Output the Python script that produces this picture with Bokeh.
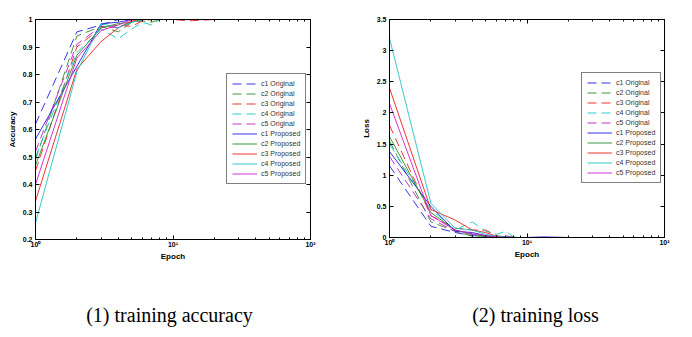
from bokeh.plotting import figure
from bokeh.layouts import row, column
from bokeh.models import (Range1d, FixedTicker, PrintfTickFormatter, LinearAxis, LogAxis,
                          Legend, LegendItem, Label)
from bokeh.embed import file_html
from bokeh.resources import INLINE

# ---------------- data ----------------
epochs = [1, 2, 3, 4, 5, 6, 7, 8, 9, 10, 13, 20, 50, 100]

acc_c1_orig = [0.62, 0.955, 0.98, 1.0, 1.0, 1.0, 1.0, 1.0, 1.0, 1.0, 1.0, 1.0, 1.0, 1.0]
acc_c2_orig = [0.49, 0.94, 0.975, 0.955, 0.99, 0.995, 0.99, 1.0, 1.0, 1.0, 1.0, 1.0, 1.0, 1.0]
acc_c3_orig = [0.45, 0.90, 0.97, 0.98, 0.975, 0.995, 1.0, 1.0, 1.0, 1.0, 0.995, 1.0, 1.0, 1.0]
acc_c4_orig = [0.50, 0.88, 0.965, 0.93, 0.965, 0.99, 0.98, 1.0, 1.0, 1.0, 1.0, 1.0, 1.0, 1.0]
acc_c5_orig = [0.52, 0.91, 0.975, 0.97, 0.99, 1.0, 1.0, 1.0, 1.0, 1.0, 1.0, 1.0, 1.0, 1.0]
acc_c1_prop = [0.565, 0.83, 0.985, 0.99, 1.0, 1.0, 1.0, 1.0, 1.0, 1.0, 1.0, 1.0, 1.0, 1.0]
acc_c2_prop = [0.47, 0.87, 0.97, 0.985, 0.99, 1.0, 1.0, 1.0, 1.0, 1.0, 1.0, 1.0, 1.0, 1.0]
acc_c3_prop = [0.34, 0.82, 0.92, 0.97, 0.995, 1.0, 1.0, 1.0, 1.0, 1.0, 1.0, 1.0, 1.0, 1.0]
acc_c4_prop = [0.26, 0.81, 0.985, 0.97, 0.99, 1.0, 1.0, 1.0, 1.0, 1.0, 1.0, 1.0, 1.0, 1.0]
acc_c5_prop = [0.40, 0.86, 0.96, 0.98, 1.0, 1.0, 1.0, 1.0, 1.0, 1.0, 1.0, 1.0, 1.0, 1.0]

loss_c1_orig = [1.15, 0.18, 0.08, 0.03, 0.02, 0.01, 0.005, 0.0, 0.0, 0.0, 0.0, 0.0, 0.0, 0.0]
loss_c2_orig = [1.55, 0.25, 0.10, 0.02, 0.02, 0.01, 0.005, 0.0, 0.0, 0.0, 0.0, 0.0, 0.0, 0.0]
loss_c3_orig = [1.80, 0.35, 0.15, 0.12, 0.12, 0.03, 0.005, 0.0, 0.0, 0.0, 0.0, 0.0, 0.0, 0.0]
loss_c4_orig = [1.50, 0.45, 0.12, 0.25, 0.10, 0.05, 0.10, 0.01, 0.0, 0.0, 0.0, 0.0, 0.0, 0.0]
loss_c5_orig = [1.30, 0.30, 0.10, 0.05, 0.03, 0.01, 0.03, 0.0, 0.0, 0.0, 0.0, 0.0, 0.0, 0.0]
loss_c1_prop = [1.38, 0.50, 0.10, 0.08, 0.03, 0.01, 0.005, 0.0, 0.0, 0.0, 0.01, 0.0, 0.0, 0.0]
loss_c2_prop = [1.62, 0.40, 0.12, 0.05, 0.02, 0.01, 0.005, 0.0, 0.0, 0.0, 0.0, 0.0, 0.0, 0.0]
loss_c3_prop = [2.40, 0.45, 0.28, 0.12, 0.08, 0.02, 0.005, 0.0, 0.0, 0.0, 0.0, 0.0, 0.0, 0.0]
loss_c4_prop = [3.20, 0.55, 0.15, 0.12, 0.05, 0.02, 0.01, 0.0, 0.0, 0.0, 0.0, 0.0, 0.0, 0.0]
loss_c5_prop = [2.15, 0.35, 0.12, 0.06, 0.03, 0.01, 0.005, 0.0, 0.0, 0.0, 0.0, 0.0, 0.0, 0.0]

series_labels = ["c1 Original", "c2 Original", "c3 Original", "c4 Original", "c5 Original",
                 "c1 Proposed", "c2 Proposed", "c3 Proposed", "c4 Proposed", "c5 Proposed"]
series_colors = ["#1f1fe6", "#2e8b2e", "#f01e1e", "#1ec3c3", "#c31ec3",
                 "#1f1fe6", "#2e8b2e", "#f01e1e", "#1ec3c3", "#d21ed2"]
series_dash = ["9 5"] * 5 + ["solid"] * 5

acc_series = [acc_c1_orig, acc_c2_orig, acc_c3_orig, acc_c4_orig, acc_c5_orig,
              acc_c1_prop, acc_c2_prop, acc_c3_prop, acc_c4_prop, acc_c5_prop]
loss_series = [loss_c1_orig, loss_c2_orig, loss_c3_orig, loss_c4_orig, loss_c5_orig,
               loss_c1_prop, loss_c2_prop, loss_c3_prop, loss_c4_prop, loss_c5_prop]

x_ticks = [1, 10, 100]
x_tick_labels = {1: "10\u2070", 10: "10\u00b9", 100: "10\u00b2"}
x_minor = [2, 3, 4, 5, 6, 7, 8, 9, 20, 30, 40, 50, 60, 70, 80, 90]
acc_ticks = [0.2, 0.3, 0.4, 0.5, 0.6, 0.7, 0.8, 0.9, 1.0]
loss_ticks = [0.0, 0.5, 1.0, 1.5, 2.0, 2.5, 3.0, 3.5]
captions = ["(1) training accuracy", "(2) training loss"]

FONT = "Liberation Sans"


def style_axis(ax, show_labels=True, standoff=3):
    ax.major_tick_in = 4
    ax.major_tick_out = 0
    ax.minor_tick_in = 2
    ax.minor_tick_out = 0
    ax.axis_line_color = "black"
    ax.major_tick_line_color = "black"
    ax.minor_tick_line_color = "black"
    ax.major_label_text_font = FONT
    ax.major_label_text_font_style = "bold"
    ax.major_label_text_font_size = "7px" if show_labels else "0px"
    ax.major_label_text_color = "black"
    ax.major_label_standoff = standoff if show_labels else 0
    ax.axis_label_text_font = FONT
    ax.axis_label_text_font_style = "bold"
    ax.axis_label_text_font_size = "8px"
    ax.axis_label_text_color = "black"
    ax.axis_label_standoff = standoff if show_labels else 0


def make_panel(series, ylabel, y0, y1, yticks, fw, fh, bl, br, bt, bb, legend_loc):
    p = figure(frame_width=fw, frame_height=fh, x_axis_type="log",
               x_range=Range1d(1, 100), y_range=Range1d(y0, y1),
               output_backend="svg", toolbar_location=None,
               min_border_left=bl, min_border_right=br,
               min_border_top=bt, min_border_bottom=bb,
               x_axis_label="Epoch", y_axis_label=ylabel)
    p.background_fill_color = "white"
    p.border_fill_color = "white"
    p.outline_line_color = "black"
    p.xgrid.visible = False
    p.ygrid.visible = False

    xt = FixedTicker(ticks=x_ticks, minor_ticks=x_minor)
    yt = FixedTicker(ticks=yticks)
    p.xaxis.ticker = xt
    p.xaxis.major_label_overrides = x_tick_labels
    p.yaxis.ticker = yt
    p.yaxis.formatter = PrintfTickFormatter(format="%g")
    for ax in p.xaxis:
        style_axis(ax, standoff=1)
    for ax in p.yaxis:
        style_axis(ax)

    top = LogAxis(ticker=xt)
    style_axis(top, show_labels=False)
    top.major_label_overrides = {1: "", 10: "", 100: ""}
    p.add_layout(top, "above")
    right = LinearAxis(ticker=yt)
    style_axis(right, show_labels=False)
    right.formatter = PrintfTickFormatter(format=" ")
    p.add_layout(right, "right")

    items = []
    for vals, lab, col, dash in zip(series, series_labels, series_colors, series_dash):
        r = p.line(epochs, vals, line_color=col, line_width=1, line_dash=dash, line_alpha=0.9)
        items.append(LegendItem(label=lab, renderers=[r]))

    leg = Legend(items=items, location=legend_loc)
    leg.border_line_color = "black"
    leg.border_line_width = 1
    leg.background_fill_color = "white"
    leg.background_fill_alpha = 1.0
    leg.label_text_font = FONT
    leg.label_text_font_size = "7px"
    leg.label_text_color = "#333333"
    leg.glyph_width = 25
    leg.glyph_height = 9
    leg.label_height = 9
    leg.label_standoff = 4
    leg.spacing = 1
    leg.padding = 5
    leg.margin = 0
    p.add_layout(leg)
    return p


p1 = make_panel(acc_series, "Accuracy", 0.2, 1.0, acc_ticks,
                fw=275, fh=220, bl=35, br=40, bt=17, bb=50, legend_loc=(191, 55))
p2 = make_panel(loss_series, "Loss", 0.0, 3.5, loss_ticks,
                fw=275, fh=218, bl=39, br=20, bt=19, bb=50, legend_loc=(192, 54))

# caption strip below the two charts
cap = figure(width=676, height=46, x_range=Range1d(0, 676), y_range=Range1d(0, 46),
             output_backend="svg", toolbar_location=None,
             x_axis_location=None, y_axis_location=None,
             min_border_left=0, min_border_right=0, min_border_top=0, min_border_bottom=0)
cap.outline_line_color = None
cap.background_fill_color = "white"
cap.border_fill_color = "white"
cap.xgrid.visible = False
cap.ygrid.visible = False
cap.add_layout(Label(x=169, y=19, text=captions[0], text_font="Liberation Serif",
                     text_font_size="20px", text_color="black",
                     text_align="center", text_baseline="alphabetic"))
cap.add_layout(Label(x=535, y=19, text=captions[1], text_font="Liberation Serif",
                     text_font_size="20px", text_color="black",
                     text_align="center", text_baseline="alphabetic"))

layout = column(row(p1, p2), cap)
open("out.html", "w").write(file_html(layout, INLINE))
